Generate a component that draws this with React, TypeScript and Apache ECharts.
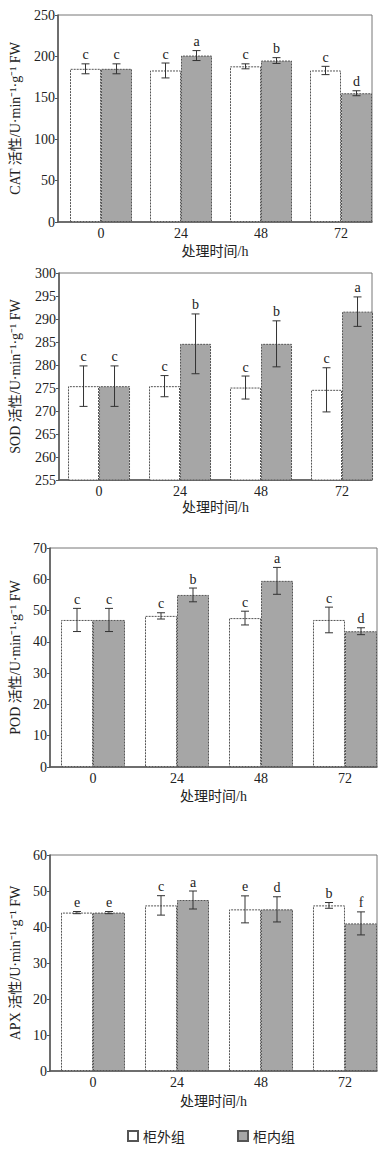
import React, { useEffect, useRef } from "react";
import * as echarts from "echarts";

const categories = ["0", "24", "48", "72"];
const seriesNames = ["柜外组", "柜内组"];
const xTitle = "处理时间/h";

const catOut = [185, 183, 188, 183];
const catOutErr = [6, 9, 3, 5];
const catIn = [185, 201, 195, 155.5];
const catInErr = [6, 6, 3.5, 3];
const catOutLetters = ["c", "c", "c", "c"];
const catInLetters = ["c", "a", "b", "d"];

const sodOut = [275.4, 275.4, 275.1, 274.6];
const sodOutErr = [4.4, 2.3, 2.5, 4.8];
const sodIn = [275.4, 284.6, 284.6, 291.6];
const sodInErr = [4.4, 6.5, 5, 3.2];
const sodOutLetters = ["c", "c", "c", "c"];
const sodInLetters = ["c", "b", "b", "a"];

const podOut = [47, 48.3, 47.6, 47];
const podOutErr = [3.7, 1, 2.2, 4.1];
const podIn = [47, 55, 59.5, 43.4];
const podInErr = [3.7, 2.2, 4.3, 1.1];
const podOutLetters = ["c", "c", "c", "c"];
const podInLetters = ["c", "b", "a", "d"];

const apxOut = [44, 46, 44.9, 46];
const apxOutErr = [0.3, 2.7, 3.75, 0.8];
const apxIn = [44, 47.5, 44.9, 41];
const apxInErr = [0.3, 2.5, 3.5, 3.2];
const apxOutLetters = ["e", "c", "e", "b"];
const apxInLetters = ["e", "a", "d", "f"];

const yTitles = [
  "CAT 活性/U·min⁻¹·g⁻¹ FW",
  "SOD 活性/U·min⁻¹·g⁻¹ FW",
  "POD 活性/U·min⁻¹·g⁻¹ FW",
  "APX 活性/U·min⁻¹·g⁻¹ FW",
];
const yTicks = [
  { min: 0, max: 250, interval: 50 },
  { min: 255, max: 300, interval: 5 },
  { min: 0, max: 70, interval: 10 },
  { min: 0, max: 60, interval: 10 },
];

const panelData = [
  { out: catOut, outErr: catOutErr, inn: catIn, innErr: catInErr, outL: catOutLetters, inL: catInLetters },
  { out: sodOut, outErr: sodOutErr, inn: sodIn, innErr: sodInErr, outL: sodOutLetters, inL: sodInLetters },
  { out: podOut, outErr: podOutErr, inn: podIn, innErr: podInErr, outL: podOutLetters, inL: podInLetters },
  { out: apxOut, outErr: apxOutErr, inn: apxIn, innErr: apxInErr, outL: apxOutLetters, inL: apxInLetters },
];

// layout (pixels)
const layouts = [
  { left: 58, top: 15, width: 314, height: 207, xMin: -0.5375, xMax: 3.3875, bw: 31, yGap: 36, xGap: 22 },
  { left: 59, top: 273, width: 313, height: 207, xMin: -0.494, xMax: 3.37, bw: 31, yGap: 37, xGap: 20 },
  { left: 50, top: 548, width: 327, height: 219, xMin: -0.512, xMax: 3.381, bw: 32, yGap: 28, xGap: 22 },
  { left: 50, top: 855, width: 327, height: 216, xMin: -0.512, xMax: 3.381, bw: 32, yGap: 28, xGap: 23 },
];

const SERIF = "'Liberation Serif', 'Times New Roman', 'Noto Sans CJK SC', serif";
const LINE = "#555";

export default function App() {
  const ref = useRef<HTMLDivElement>(null);
  useEffect(() => {
    document.body.style.margin = "0";
    const chart = echarts.init(ref.current!, undefined, { renderer: "svg" });
    const grid: any[] = [];
    const xAxis: any[] = [];
    const yAxis: any[] = [];
    const series: any[] = [];
    layouts.forEach((L, p) => {
      grid.push({
        left: L.left,
        top: L.top,
        width: L.width,
        height: L.height,
        show: true,
        borderColor: "#777",
        borderWidth: 1,
      });
      xAxis.push({
        type: "value",
        gridIndex: p,
        min: L.xMin,
        max: L.xMax,
        axisLine: { show: true, onZero: false, lineStyle: { color: LINE, width: 1.5 } },
        axisTick: { show: false },
        splitLine: { show: false },
        axisLabel: {
          customValues: [0, 1, 2, 3],
          formatter: (v: number) => categories[Math.round(v)],
          fontFamily: SERIF,
          fontSize: 14,
          color: "#222",
          margin: 4,
        },
        name: xTitle,
        nameLocation: "middle",
        nameGap: L.xGap,
        nameTextStyle: { fontFamily: SERIF, fontSize: 14, color: "#222" },
      });
      yAxis.push({
        type: "value",
        gridIndex: p,
        min: yTicks[p].min,
        max: yTicks[p].max,
        interval: yTicks[p].interval,
        axisLine: { show: true, onZero: false, lineStyle: { color: LINE, width: 1.5 } },
        axisTick: { show: true, length: 3, lineStyle: { color: LINE } },
        splitLine: { show: false },
        axisLabel: { fontFamily: SERIF, fontSize: 14, color: "#222", margin: 3 },
        name: yTitles[p],
        nameLocation: "middle",
        nameGap: L.yGap,
        nameTextStyle: { fontFamily: SERIF, fontSize: 14, color: "#222" },
      });
      const d = panelData[p];
      const groups = [
        { vals: d.out, errs: d.outErr, letters: d.outL, sign: -1, name: seriesNames[0], color: "#ffffff" },
        { vals: d.inn, errs: d.innErr, letters: d.inL, sign: 1, name: seriesNames[1], color: "#a6a6a6" },
      ];
      groups.forEach((g) => {
        series.push({
          type: "bar",
          name: g.name,
          xAxisIndex: p,
          yAxisIndex: p,
          barWidth: L.bw,
          barGap: "0%",
          data: g.vals.map((v, i) => [i, v]),
          itemStyle: { color: g.color, borderColor: "#555", borderWidth: 1, borderType: [2, 1] },
        });
      });
      groups.forEach((g) => {
        series.push({
          type: "custom",
          xAxisIndex: p,
          yAxisIndex: p,
          z: 5,
          data: g.vals.map((v, i) => [i, v, g.errs[i]]),
          encode: { x: 0, y: 1 },
          renderItem: (params: any, api: any) => {
            const i = api.value(0);
            const v = api.value(1);
            const e = api.value(2);
            const t = api.coord([i, v + e]);
            const b = api.coord([i, v - e]);
            const cx = t[0] + (g.sign * L.bw) / 2;
            const cap = 4;
            const ls = { stroke: "#333", lineWidth: 1 };
            return {
              type: "group",
              children: [
                { type: "line", shape: { x1: cx, y1: t[1], x2: cx, y2: b[1] }, style: ls },
                { type: "line", shape: { x1: cx - cap, y1: t[1], x2: cx + cap, y2: t[1] }, style: ls },
                { type: "line", shape: { x1: cx - cap, y1: b[1], x2: cx + cap, y2: b[1] }, style: ls },
                {
                  type: "text",
                  style: {
                    x: cx,
                    y: t[1] - 2,
                    text: g.letters[params.dataIndex],
                    textAlign: "center",
                    textVerticalAlign: "bottom",
                    fontFamily: SERIF,
                    fontSize: 14,
                    fill: "#222",
                  },
                },
              ],
            };
          },
        });
      });
    });
    chart.setOption({
      animation: false,
      backgroundColor: "#fff",
      grid,
      xAxis,
      yAxis,
      series,
      legend: {
        data: seriesNames,
        left: 127,
        top: 1129,
        padding: 0,
        itemWidth: 10,
        itemHeight: 10,
        itemGap: 52,
        icon: "rect",
        textStyle: { fontFamily: "'Noto Sans CJK SC', sans-serif", fontSize: 14, color: "#222" },
      },
    });
    return () => chart.dispose();
  }, []);
  return <div ref={ref} style={{ width: 386, height: 1155 }} />;
}
